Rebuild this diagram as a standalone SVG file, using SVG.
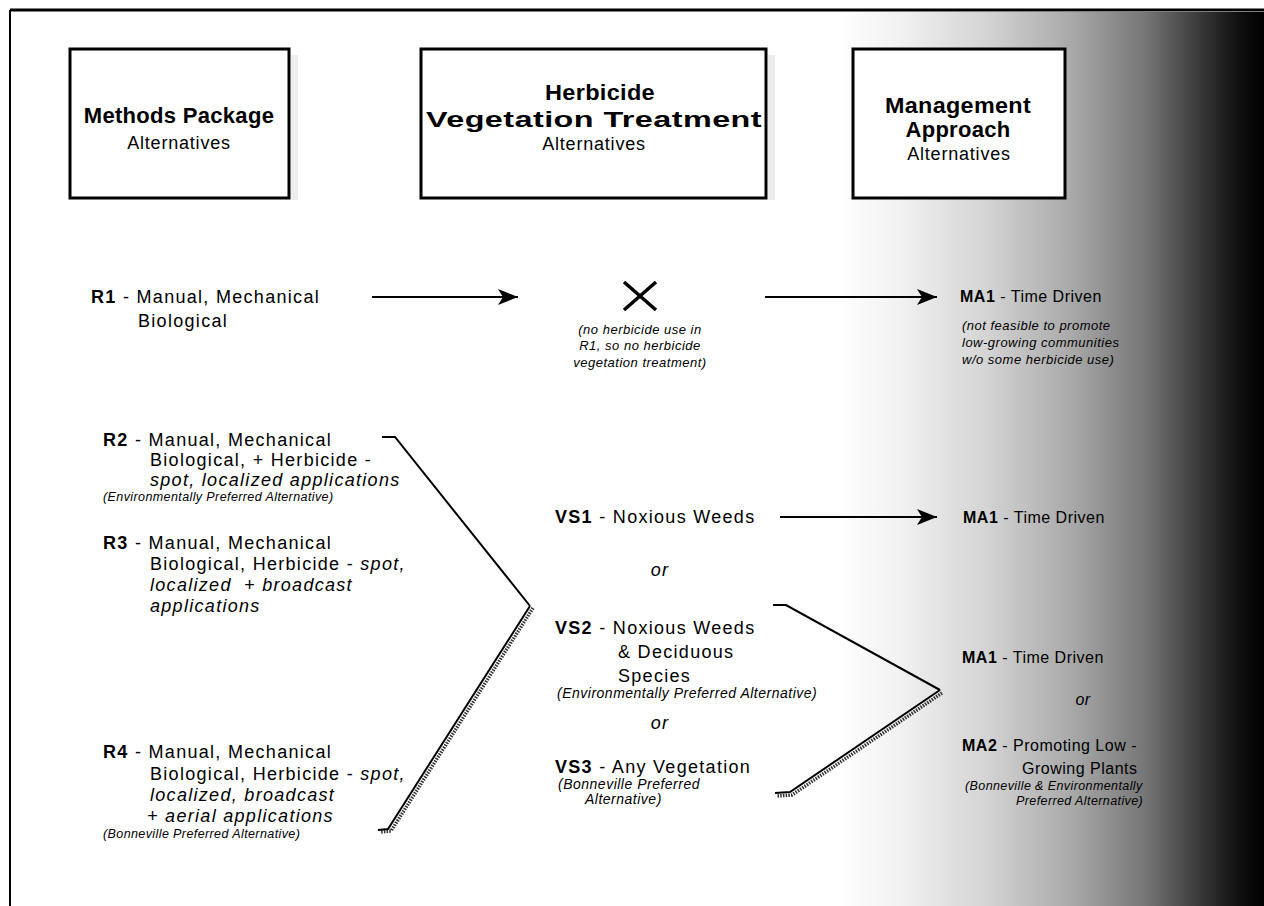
<svg xmlns="http://www.w3.org/2000/svg" width="1264" height="906" viewBox="0 0 1264 906">
  <style>
    .t { font-family: "Liberation Sans", Arial, sans-serif; font-size: 18px; letter-spacing: 1.3px; fill: #000; }
    .b { font-weight: bold; }
    .i { font-style: italic; }
    .n { font-size: 13px; font-style: italic; letter-spacing: 0.5px; }
    .s { font-size: 12.5px; font-style: italic; letter-spacing: 0.4px; }
    .m { font-size: 14px; font-style: italic; letter-spacing: 0.5px; }
    .r { font-size: 16px; letter-spacing: 0.5px; }
    .h { font-size: 22px; font-weight: bold; letter-spacing: 0.3px; }
    .ha { font-size: 18px; letter-spacing: 0.8px; }
    .box { fill: #fff; stroke: #000; stroke-width: 3; }
    .shadow { fill: #ededed; }
    .solid { fill: none; stroke: #000; stroke-width: 2; }
    .edge { fill: none; stroke: #000; stroke-width: 2; }
    .dots { fill: none; stroke: #333; stroke-width: 3.5; stroke-dasharray: 1.5 1.2; }
    .arrow { fill: none; stroke: #000; stroke-width: 2; marker-end: url(#head); }
  </style>
  <defs>
    <linearGradient id="shade" gradientUnits="userSpaceOnUse" x1="840" y1="0" x2="1264" y2="0">
      <stop offset="0" stop-color="#ffffff"/>
      <stop offset="0.15" stop-color="#f0f0f0"/>
      <stop offset="0.35" stop-color="#d3d3d3"/>
      <stop offset="0.55" stop-color="#a8a8a8"/>
      <stop offset="0.72" stop-color="#767676"/>
      <stop offset="0.85" stop-color="#383838"/>
      <stop offset="0.94" stop-color="#101010"/>
      <stop offset="1" stop-color="#000000"/>
    </linearGradient>
    <marker id="head" markerUnits="userSpaceOnUse" markerWidth="22" markerHeight="16" refX="20" refY="8" orient="auto">
      <path d="M0,0 L20,8 L0,16 L5,8 z" fill="#000"/>
    </marker>
  </defs>

  <!-- page background and shaded right margin -->
  <rect x="0" y="0" width="1264" height="906" fill="#fff"/>
  <rect x="840" y="12" width="424" height="894" fill="url(#shade)"/>

  <!-- outer frame -->
  <g id="frame">
    <line x1="10" y1="10" x2="1264" y2="10" stroke="#000" stroke-width="3"/>
    <line x1="10" y1="10" x2="10" y2="906" stroke="#000" stroke-width="2"/>
  </g>

  <!-- column headers -->
  <g id="hdr-methods">
    <rect class="shadow" x="291" y="55" width="7" height="145"/>
    <rect class="box" x="70" y="49" width="219" height="149"/>
    <text class="t h" x="179" y="123" text-anchor="middle">Methods Package</text>
    <text class="t ha" x="179" y="149" text-anchor="middle">Alternatives</text>
  </g>
  <g id="hdr-treatment">
    <rect class="shadow" x="768" y="55" width="7" height="145"/>
    <rect class="box" x="421" y="49" width="345" height="149"/>
    <text class="t h" x="600" y="100" text-anchor="middle" textLength="110" lengthAdjust="spacingAndGlyphs">Herbicide</text>
    <text class="t h" x="594" y="127" text-anchor="middle" textLength="336" lengthAdjust="spacingAndGlyphs">Vegetation Treatment</text>
    <text class="t ha" x="594" y="150" text-anchor="middle">Alternatives</text>
  </g>
  <g id="hdr-management">
    <rect class="box" x="853" y="49" width="212" height="149"/>
    <text class="t h" x="958" y="113" text-anchor="middle" textLength="146" lengthAdjust="spacingAndGlyphs">Management</text>
    <text class="t h" x="958" y="137" text-anchor="middle">Approach</text>
    <text class="t ha" x="959" y="160" text-anchor="middle">Alternatives</text>
  </g>

  <!-- methods package alternatives -->
  <g id="r1">
    <text class="t" x="91" y="303" letter-spacing="1.8"><tspan class="b">R1</tspan> - Manual, Mechanical</text>
    <text class="t" x="138" y="327" letter-spacing="1.8">Biological</text>
  </g>
  <g id="r2">
    <text class="t" x="103" y="446"><tspan class="b">R2</tspan> - Manual, Mechanical</text>
    <text class="t" x="150" y="466">Biological, + Herbicide -</text>
    <text class="t i" x="150" y="486">spot, localized applications</text>
    <text class="t s" x="103" y="501">(Environmentally Preferred Alternative)</text>
  </g>
  <g id="r3">
    <text class="t" x="103" y="549"><tspan class="b">R3</tspan> - Manual, Mechanical</text>
    <text class="t" x="150" y="570">Biological, Herbicide - <tspan class="i">spot,</tspan></text>
    <text class="t i" x="150" y="591">localized <tspan dx="6">+ broadcast</tspan></text>
    <text class="t i" x="150" y="612">applications</text>
  </g>
  <g id="r4">
    <text class="t" x="103" y="758"><tspan class="b">R4</tspan> - Manual, Mechanical</text>
    <text class="t" x="150" y="780">Biological, Herbicide - <tspan class="i">spot,</tspan></text>
    <text class="t i" x="150" y="801">localized, broadcast</text>
    <text class="t i" x="147" y="822">+ aerial applications</text>
    <text class="t s" x="103" y="838">(Bonneville Preferred Alternative)</text>
  </g>

  <!-- vegetation treatment alternatives -->
  <g id="no-treatment">
    <path d="M624,282 L656,310 M656,282 L624,310" stroke="#000" stroke-width="3.5" fill="none"/>
    <text class="t n" x="640" y="334" text-anchor="middle">(no herbicide use in</text>
    <text class="t n" x="640" y="350" text-anchor="middle">R1, so no herbicide</text>
    <text class="t n" x="640" y="367" text-anchor="middle">vegetation treatment)</text>
  </g>
  <g id="vs1">
    <text class="t" x="555" y="523"><tspan class="b">VS1</tspan> - Noxious Weeds</text>
  </g>
  <text class="t i" x="660" y="576" text-anchor="middle">or</text>
  <g id="vs2">
    <text class="t" x="555" y="634"><tspan class="b">VS2</tspan> - Noxious Weeds</text>
    <text class="t" x="618" y="658">&amp; Deciduous</text>
    <text class="t" x="618" y="682">Species</text>
    <text class="t m" x="557" y="698" letter-spacing="0.7">(Environmentally Preferred Alternative)</text>
  </g>
  <text class="t i" x="660" y="729" text-anchor="middle">or</text>
  <g id="vs3">
    <text class="t" x="555" y="773"><tspan class="b">VS3</tspan> - Any Vegetation</text>
    <text class="t m" x="558" y="789">(Bonneville Preferred</text>
    <text class="t m" x="585" y="804">Alternative)</text>
  </g>

  <!-- management approach alternatives -->
  <g id="ma1-a">
    <text class="t r" x="960" y="302"><tspan class="b">MA1</tspan> - Time Driven</text>
    <text class="t n" x="962" y="330">(not feasible to promote</text>
    <text class="t n" x="962" y="347">low-growing communities</text>
    <text class="t n" x="962" y="364">w/o some herbicide use)</text>
  </g>
  <g id="ma1-b">
    <text class="t r" x="963" y="523"><tspan class="b">MA1</tspan> - Time Driven</text>
  </g>
  <g id="ma1-c">
    <text class="t r" x="962" y="663"><tspan class="b">MA1</tspan> - Time Driven</text>
  </g>
  <text class="t r i" x="1083" y="705" text-anchor="middle">or</text>
  <g id="ma2">
    <text class="t r" x="962" y="751" letter-spacing="1"><tspan class="b">MA2</tspan> - Promoting Low -</text>
    <text class="t r" x="1022" y="774">Growing Plants</text>
    <text class="t s" x="965" y="790">(Bonneville &amp; Environmentally</text>
    <text class="t s" x="1016" y="805">Preferred Alternative)</text>
  </g>

  <!-- connectors -->
  <g id="connectors">
    <line class="arrow" x1="372" y1="297" x2="518" y2="297"/>
    <line class="arrow" x1="765" y1="297" x2="937" y2="297"/>
    <line class="arrow" x1="780" y1="517" x2="937" y2="517"/>
    <polyline class="solid" points="382,437 395,437 530,606"/>
    <polyline class="dots" points="533,608 391,831 380,832"/>
    <polyline class="edge" points="530,606 388,829 378,830"/>
    <polyline class="solid" points="773,605 786,605 940,690"/>
    <polyline class="dots" points="942,693 792,795 777,796"/>
    <polyline class="edge" points="940,690 790,792 775,793"/>
  </g>
</svg>
